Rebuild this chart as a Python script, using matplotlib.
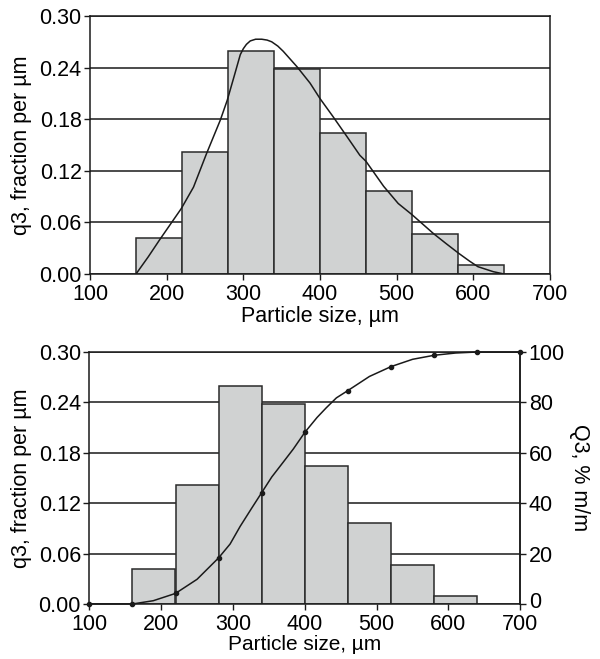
import numpy as np
import matplotlib.pyplot as plt
from matplotlib.transforms import ScaledTranslation

plt.rcParams['font.family'] = ['Liberation Sans', 'DejaVu Sans']
plt.rcParams['font.size'] = 15.5

# ── data ──────────────────────────────────────────────────────────────────
class_edges = [160, 220, 280, 340, 400, 460, 520, 580, 640]
q3_values = [0.042, 0.142, 0.259, 0.238, 0.164, 0.096, 0.047, 0.010]

# smoothed density trace (top panel)
q3_curve_x = [160, 176, 191, 205, 219, 235, 252, 270, 279, 289, 296, 300, 304,
              309, 316, 324, 331, 337, 345, 352, 370, 387, 400, 417, 435, 452,
              460, 483, 502, 520, 548, 565, 581, 595, 606, 626, 640]
q3_curve_y = [0.0, 0.020, 0.040, 0.058, 0.076, 0.101, 0.140, 0.179, 0.202,
              0.233, 0.255, 0.262, 0.267, 0.271, 0.273, 0.273, 0.272, 0.270,
              0.265, 0.259, 0.241, 0.222, 0.204, 0.183, 0.160, 0.138, 0.131,
              0.102, 0.082, 0.069, 0.047, 0.035, 0.024, 0.015, 0.0085, 0.0027,
              0.0]

# cumulative distribution (bottom panel)
Q3_points_x = [100, 160, 220, 280, 340, 400, 460, 520, 580, 640, 700]
Q3_points_y = [0, 0, 4.2, 18.3, 44.2, 68.1, 84.7, 94.2, 98.7, 100, 100]
Q3_trace_x = [100, 160, 189, 220, 250, 280, 296, 310, 326, 340, 354, 370, 384,
              400, 417, 430, 444, 460, 490, 520, 550, 580, 610, 640, 700]
Q3_trace_y = [0, 0, 1.3, 4.2, 9.8, 18.3, 23.8, 30.8, 38.0, 44.2, 50.4, 56.3,
              61.5, 68.1, 74.0, 77.9, 81.8, 84.7, 90.3, 94.2, 97.1, 98.7, 99.6,
              100, 100]

x_ticks = [100, 200, 300, 400, 500, 600, 700]
y_ticks = [0.00, 0.06, 0.12, 0.18, 0.24, 0.30]
y2_ticks = [0, 20, 40, 60, 80, 100]

BAR_FILL = '#d0d2d2'
INK = '#1a1a1a'

W, H = 600, 659
fig = plt.figure(figsize=(W / 100, H / 100), dpi=100)


def style_axis(ax, xpad=3, xlabelpad=1, xlabelsize=15.5):
    ax.set_xlim(100, 700)
    ax.set_ylim(0, 0.30)
    ax.set_xticks(x_ticks)
    ax.set_yticks(y_ticks)
    ax.set_yticklabels([f'{v:.2f}' for v in y_ticks])
    ax.yaxis.grid(True, color=INK, linewidth=1.1)
    ax.set_axisbelow(True)
    for s in ax.spines.values():
        s.set_color(INK)
        s.set_linewidth(1.1)
    ax.tick_params(direction='out', length=4, width=1, color=INK, pad=2)
    ax.tick_params(axis='x', pad=xpad)
    ax.set_xlabel('Particle size, µm', labelpad=xlabelpad, fontsize=xlabelsize)
    ax.set_ylabel('q3, fraction per µm', labelpad=5)


def draw_bars(ax):
    ax.bar(class_edges[:-1], q3_values, width=np.diff(class_edges), align='edge',
           color=BAR_FILL, edgecolor='#2a2a2a', linewidth=1.1, zorder=2)


# ── top panel: histogram + density curve ──────────────────────────────────
ax1 = fig.add_axes([90 / W, 1 - 274 / H, 460 / W, 258 / H])
style_axis(ax1)
draw_bars(ax1)
ax1.plot(q3_curve_x, q3_curve_y, color=INK, linewidth=1.1, zorder=3)

# ── bottom panel: histogram + cumulative curve ────────────────────────────
ax2 = fig.add_axes([89.3 / W, 1 - 604 / H, 431 / W, 252 / H])
style_axis(ax2, xpad=3.5, xlabelpad=0, xlabelsize=15)
draw_bars(ax2)

ax3 = ax2.twinx()
ax3.set_ylim(0, 100)
ax3.set_yticks(y2_ticks)
ax3.tick_params(direction='out', length=4, width=1, color=INK, pad=2)
for s in ax3.spines.values():
    s.set_visible(False)
ax3.spines['right'].set_visible(True)
ax3.spines['right'].set_color(INK)
ax3.spines['right'].set_linewidth(1.1)
ax3.plot(Q3_trace_x, Q3_trace_y, color=INK, linewidth=1.1, clip_on=False)
ax3.plot(Q3_points_x, Q3_points_y, linestyle='none', marker='o', markersize=3,
         color=INK, clip_on=False)
ax3.set_ylabel('Q3, % m/m', rotation=270, labelpad=18)
# nudge the right-hand "0" up a touch so it clears the "700" below it
zero_lbl = ax3.get_yticklabels()[0]
zero_lbl.set_transform(zero_lbl.get_transform()
                       + ScaledTranslation(0, 3 / 72, fig.dpi_scale_trans))

fig.savefig('out.png', dpi=100)
